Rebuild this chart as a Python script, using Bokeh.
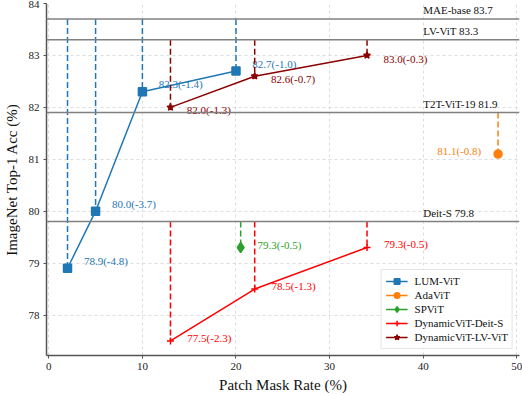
from bokeh.plotting import figure
from bokeh.models import Span, Legend, LegendItem, Range1d, FixedTicker, ColumnDataSource, Label
from bokeh.core.properties import value
from bokeh.embed import file_html
from bokeh.resources import INLINE

# ---- data ----
lum_x = [2, 5, 10, 20]
lum_y = [78.9, 80.0, 82.3, 82.7]
lum_lbl = ["78.9(-4.8)", "80.0(-3.7)", "82.3(-1.4)", "82.7(-1.0)"]

ada_x = [48]
ada_y = [81.1]
ada_lbl = ["81.1(-0.8)"]

sp_x = [20.5]
sp_y = [79.3]
sp_lbl = ["79.3(-0.5)"]

deit_x = [13, 22, 34]
deit_y = [77.5, 78.5, 79.3]
deit_lbl = ["77.5(-2.3)", "78.5(-1.3)", "79.3(-0.5)"]

lv_x = [13, 22, 34]
lv_y = [82.0, 82.6, 83.0]
lv_lbl = ["82.0(-1.3)", "82.6(-0.7)", "83.0(-0.3)"]

base_names = ["MAE-base 83.7", "LV-ViT 83.3", "T2T-ViT-19 81.9", "Deit-S 79.8"]
base_vals = [83.7, 83.3, 81.9, 79.8]

x_ticks = [0, 10, 20, 30, 40, 50]
y_ticks = [78, 79, 80, 81, 82, 83, 84]

FONT = "'Liberation Serif', 'Times New Roman', serif"

p = figure(width=522, height=395, output_backend="svg", toolbar_location=None,
           x_range=Range1d(-0.245, 50.29), y_range=Range1d(77.22, 84.0),
           min_border_left=44, min_border_right=3, min_border_top=3, min_border_bottom=39)
p.outline_line_color = None
p.background_fill_color = "white"

for ax in (p.xaxis[0], p.yaxis[0]):
    ax.axis_line_color = "#555555"
    ax.axis_line_width = 1.5
    ax.major_tick_line_color = "#555555"
    ax.major_tick_out = 3
    ax.major_tick_in = 0
    ax.minor_tick_line_color = None
    ax.major_label_text_font = FONT
    ax.major_label_text_font_size = "11px"
    ax.major_label_text_color = "#222222"
    ax.axis_label_text_font = FONT
    ax.axis_label_text_font_size = "15px"
    ax.axis_label_text_font_style = "normal"
    ax.axis_label_text_color = "#111111"

p.xaxis[0].ticker = FixedTicker(ticks=x_ticks)
p.yaxis[0].ticker = FixedTicker(ticks=y_ticks)
p.xaxis[0].axis_label = "Patch Mask Rate (%)"
p.yaxis[0].axis_label = "ImageNet Top-1 Acc (%)"
p.xaxis[0].major_label_standoff = 4
p.xaxis[0].axis_label_standoff = 4
p.yaxis[0].major_label_standoff = 4
p.yaxis[0].axis_label_standoff = 6

for g in (p.xgrid[0], p.ygrid[0]):
    g.grid_line_color = "#d4d4d4"
    g.grid_line_dash = "3 3"
    g.grid_line_width = 0.8

# baselines
for name, v in zip(base_names, base_vals):
    p.add_layout(Span(location=v, dimension="width", line_color="#808080", line_width=1.5))
    p.add_layout(Label(x=40, y=v, text=name, x_offset=0, y_offset=3,
                       text_font=FONT, text_font_size="11px", text_color="#111111",
                       text_baseline="bottom", text_align="left"))

series = [
    ("LUM-ViT", lum_x, lum_y, lum_lbl, 83.7, "#1f77b4", "square", 8, 1.75, 0.14, "left"),
    ("AdaViT", ada_x, ada_y, ada_lbl, 81.9, "#ff7f0e", "circle", 8, -1.8, 0.06, "right"),
    ("SPViT", sp_x, sp_y, sp_lbl, 79.8, "#2ca02c", "diamond", 10, 1.8, 0.05, "left"),
    ("DynamicViT-Deit-S", deit_x, deit_y, deit_lbl, 79.8, "#ff0000", "cross", 7, 1.8, 0.06, "left"),
    ("DynamicViT-LV-ViT", lv_x, lv_y, lv_lbl, 83.3, "#8b0000", "star", 7, 1.75, -0.06, "left"),
]

items = []
for name, xs, ys, lbls, base, color, marker, size, dx, dy, align in series:
    src = ColumnDataSource(dict(x=xs, y=ys, base=[base] * len(xs), lbl=lbls,
                                tx=[x + dx for x in xs], ty=[y + dy for y in ys]))
    p.segment(x0="x", y0="base", x1="x", y1="y", source=src, line_color=color,
              line_width=1.5, line_dash="6 3")
    r_line = p.line(x="x", y="y", source=src, line_color=color, line_width=1.5)
    r_sc = p.scatter(x="x", y="y", source=src, marker=marker, size=size,
                     fill_color=color, line_color=color, line_width=1.5)
    p.text(x="tx", y="ty", text="lbl", source=src, text_color=color,
           text_font=value(FONT), text_font_size="11px",
           text_align=align, text_baseline="middle")
    items.append(LegendItem(label=name, renderers=[r_line, r_sc]))

legend = Legend(items=items, location="bottom_right")
legend.label_text_font = FONT
legend.label_text_font_size = "11px"
legend.label_text_color = "#111111"
legend.glyph_width = 22
legend.glyph_height = 14
legend.label_height = 14
legend.label_standoff = 7
legend.spacing = 0
legend.padding = 4
legend.margin = 6
legend.border_line_color = "#cccccc"
legend.border_line_width = 1
legend.background_fill_alpha = 0.85
p.add_layout(legend)

open("out.html", "w").write(file_html(p, INLINE))
